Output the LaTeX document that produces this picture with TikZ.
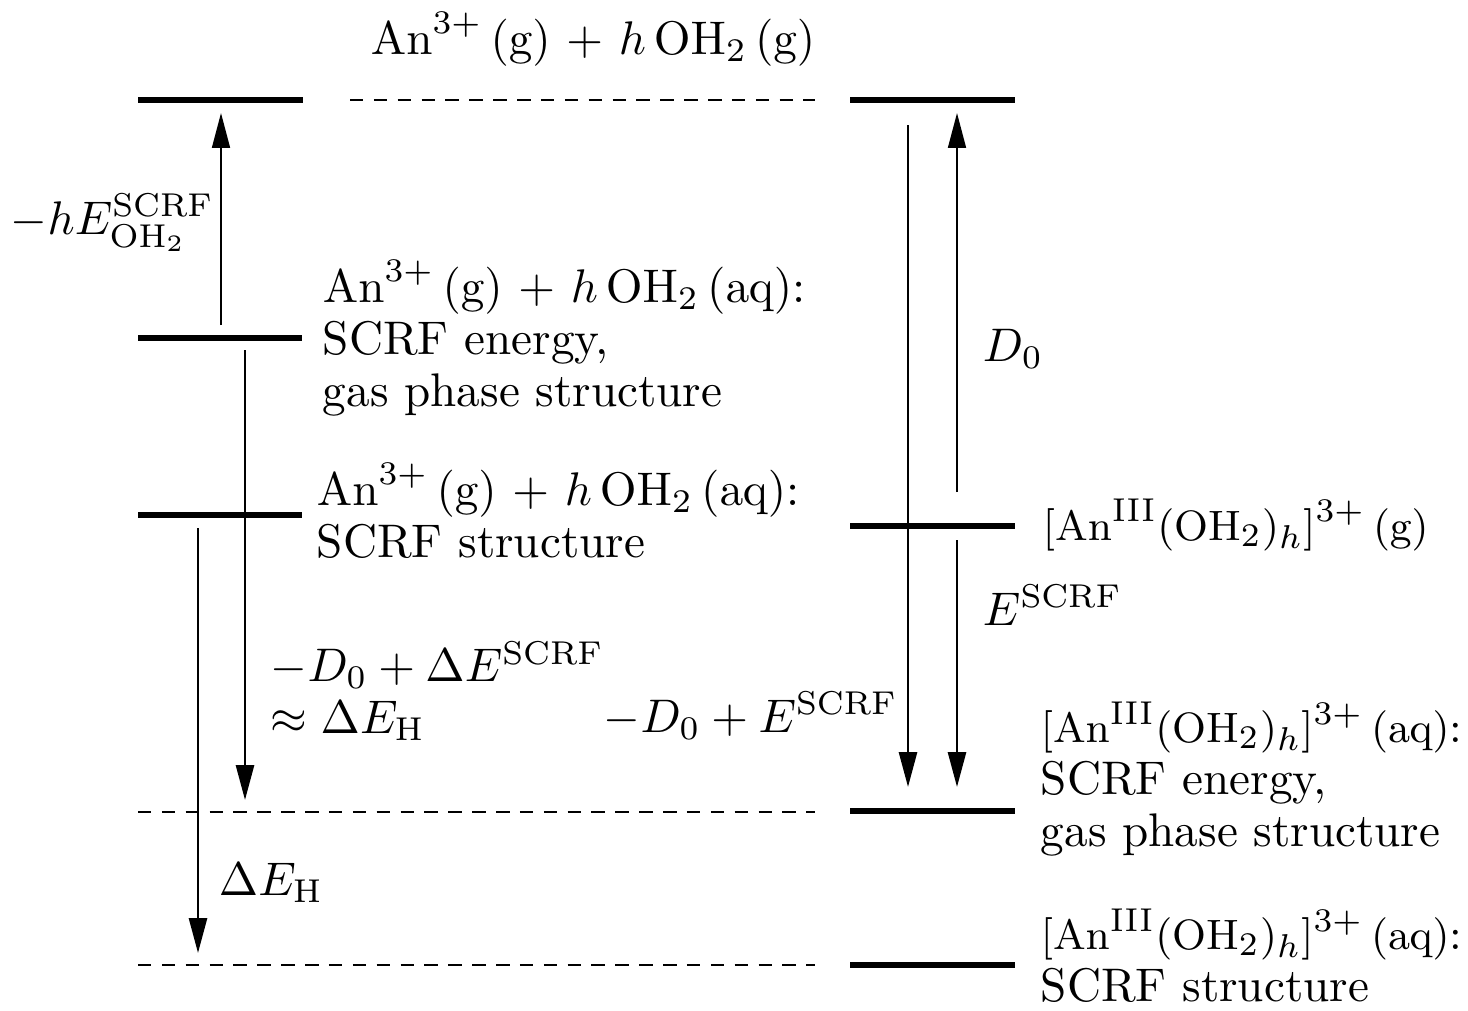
\documentclass[tikz,border=0pt]{standalone}
\usetikzlibrary{arrows.meta}
\newcommand{\plus}{\mathbin{\mkern2mu+\mkern2mu}}
\newcommand{\brfont}{\fontsize{9.45}{11}\selectfont}
\begin{document}
\begin{tikzpicture}[x=0.212pt,y=-0.212pt,
  level/.style={line width=1.27pt},
  reflevel/.style={line width=0.5pt, dash pattern=on 2.86pt off 2.2pt},
  downarr/.style={line width=0.6pt, -{Triangle[length=7.4pt,width=3.8pt]}},
  uparr/.style={line width=0.4pt, -{Triangle[length=7.4pt,width=3.8pt]}},
  lbl/.style={anchor=base west, inner sep=0pt, align=left, font=\fontsize{10}{11}\selectfont}]
\useasboundingbox (0,0) rectangle (1468,1010);
% levels
\coordinate (L1a) at (138,100); \coordinate (L1b) at (303,100);
\coordinate (D1a) at (350,100); \coordinate (D1b) at (815,100);
\coordinate (R1a) at (850,100); \coordinate (R1b) at (1015,100);
\coordinate (L2a) at (138,338); \coordinate (L2b) at (302,338);
\coordinate (L3a) at (138,515); \coordinate (L3b) at (302,515);
\coordinate (R2a) at (850,526); \coordinate (R2b) at (1015,526);
\coordinate (D2a) at (138,812); \coordinate (D2b) at (815,812);
\coordinate (R3a) at (850,811); \coordinate (R3b) at (1015,811);
\coordinate (D3a) at (138,965); \coordinate (D3b) at (815,965);
\coordinate (R4a) at (850,965); \coordinate (R4b) at (1015,965);
\draw[level] (L1a) -- (L1b);
\draw[reflevel] (D1a) -- (D1b);
\draw[level] (R1a) -- (R1b);
\draw[level] (L2a) -- (L2b);
\draw[level] (L3a) -- (L3b);
\draw[level] (R2a) -- (R2b);
\draw[reflevel] (D2a) -- (D2b);
\draw[level] (R3a) -- (R3b);
\draw[reflevel] (D3a) -- (D3b);
\draw[level] (R4a) -- (R4b);
% arrow ends
\coordinate (u1s) at (221,325); \coordinate (u1e) at (221,113);
\coordinate (d1s) at (245,350); \coordinate (d1e) at (245,800);
\coordinate (d2s) at (198,528); \coordinate (d2e) at (198,953);
\coordinate (d3s) at (908,125); \coordinate (d3e) at (908,787);
\coordinate (u2s) at (957,492); \coordinate (u2e) at (957,113);
\coordinate (d4s) at (957,540); \coordinate (d4e) at (957,787);
\draw[uparr] (u1s) -- (u1e);
\draw[downarr] (d1s) -- (d1e);
\draw[downarr] (d2s) -- (d2e);
\draw[downarr] (d3s) -- (d3e);
\draw[uparr] (u2s) -- (u2e);
\draw[downarr] (d4s) -- (d4e);
% labels
\node[lbl] (top) at (370,54) {$\mathrm{An}^{3+}\,(\mathrm{g}) \plus h\,\mathrm{OH}_2\,(\mathrm{g})$};
\node[lbl] (hE) at (10,234) {$-hE^{\mathrm{SCRF}}_{\mathrm{OH}_2}$};
\node[lbl] (lb1) at (322,406) {$\mathrm{An}^{3+}\,(\mathrm{g}) \plus h\,\mathrm{OH}_2\,(\mathrm{aq})$:\\SCRF energy,\\gas phase structure};
\node[lbl] (lb2) at (316,557) {$\mathrm{An}^{3+}\,(\mathrm{g}) \plus h\,\mathrm{OH}_2\,(\mathrm{aq})$:\\SCRF structure};
\node[lbl] (dd) at (270,733) {$-D_0 + \Delta E^{\mathrm{SCRF}}$\\$\approx \Delta E_{\mathrm{H}}$};
\node[lbl] (de) at (603,732) {$-D_0 + E^{\mathrm{SCRF}}$};
\node[lbl] (deh) at (218,895) {$\Delta E_{\mathrm{H}}$};
\node[lbl] (d0) at (982,361) {$D_0$};
\node[lbl] (es) at (982,625) {$E^{\mathrm{SCRF}}$};
\node[lbl] (rg) at (1042,540) {{\brfont$[\mathrm{An}^{\mathrm{III}}(\mathrm{OH}_2)_h]^{3+}\,(\mathrm{g})$}};
\node[lbl] (rb1) at (1040,846) {{\brfont$[\mathrm{An}^{\mathrm{III}}(\mathrm{OH}_2)_h]^{3+}\,(\mathrm{aq})$:}\\SCRF energy,\\gas phase structure};
\node[lbl] (rb2) at (1040,1001) {{\brfont$[\mathrm{An}^{\mathrm{III}}(\mathrm{OH}_2)_h]^{3+}\,(\mathrm{aq})$:}\\SCRF structure};
\end{tikzpicture}
\end{document}
